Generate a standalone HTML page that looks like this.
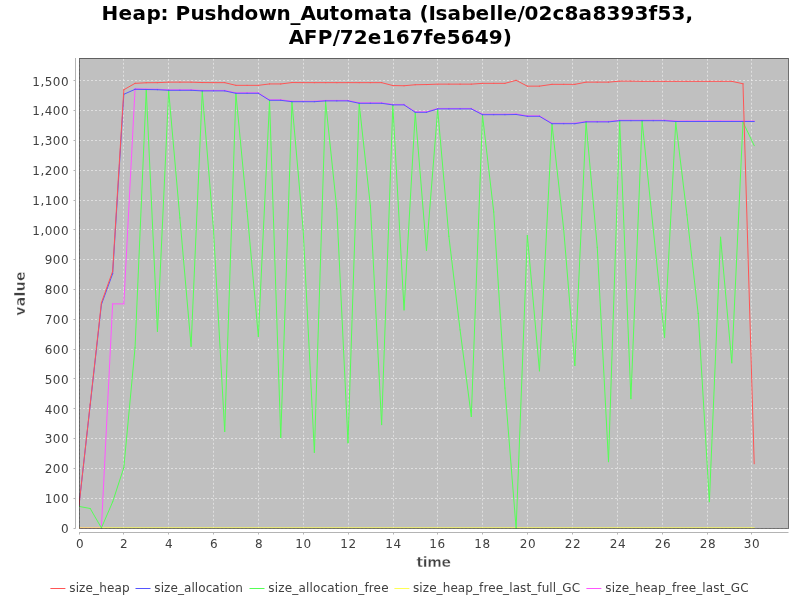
<!DOCTYPE html>
<html><head><meta charset="utf-8"><title>Heap: Pushdown_Automata</title>
<style>
html,body{margin:0;padding:0;background:#fff;}
body{width:800px;height:600px;overflow:hidden;}
svg{display:block;will-change:transform;}
text{font-family:"DejaVu Sans","Liberation Sans",sans-serif;}
.t{font-weight:bold;font-size:20px;fill:#000;}
.al{font-weight:bold;font-size:14px;fill:#404040;stroke:#ffffff;stroke-width:0.4px;letter-spacing:-0.35px;}
.av{font-weight:bold;font-size:14px;fill:#404040;stroke:#ffffff;stroke-width:0.4px;letter-spacing:0.35px;}
.tk{font-size:12px;fill:#404040;letter-spacing:0.47px;}
.tx{font-size:12px;fill:#404040;letter-spacing:0.65px;}
.lg{font-size:12px;fill:#404040;}
</style></head><body>
<svg width="800" height="600" viewBox="0 0 800 600">
<rect x="0" y="0" width="800" height="600" fill="#ffffff"/>
<text class="t" x="101.4 118.4 132.4 146.4 160.4 168.4 175.4 190.4 204.4 216.4 230.4 244.4 258.4 276.4 290.4 300.4 315.4 329.4 339.4 353.4 374.4 388.4 398.4 412.4 419.4 428.4 435.4 447.4 461.4 475.4 489.4 496.4 503.4 517.4 524.4 538.4 552.4 564.4 578.4 592.4 606.4 620.4 634.4 648.4 657.4 671.4 685.4" y="20.0">Heap: Pushdown_Automata (Isabelle/02c8a8393f53,</text>
<text class="t" x="288.7 303.7 317.7 332.7 339.7 353.7 367.7 381.7 395.7 409.7 423.7 432.7 446.7 460.7 474.7 488.7 502.7" y="44.0">AFP/72e167fe5649)</text>
<rect x="79.0" y="58.0" width="709.5" height="470.5" fill="#c0c0c0"/>
<g stroke="#ffffff" stroke-width="0.5" stroke-dasharray="2,2" fill="none" opacity="1.0">
<line x1="79.50" y1="58.75" x2="79.50" y2="528.5"/>
<line x1="123.50" y1="58.75" x2="123.50" y2="528.5"/>
<line x1="168.50" y1="58.75" x2="168.50" y2="528.5"/>
<line x1="213.50" y1="58.75" x2="213.50" y2="528.5"/>
<line x1="258.50" y1="58.75" x2="258.50" y2="528.5"/>
<line x1="303.50" y1="58.75" x2="303.50" y2="528.5"/>
<line x1="348.50" y1="58.75" x2="348.50" y2="528.5"/>
<line x1="393.50" y1="58.75" x2="393.50" y2="528.5"/>
<line x1="437.50" y1="58.75" x2="437.50" y2="528.5"/>
<line x1="482.50" y1="58.75" x2="482.50" y2="528.5"/>
<line x1="527.50" y1="58.75" x2="527.50" y2="528.5"/>
<line x1="572.50" y1="58.75" x2="572.50" y2="528.5"/>
<line x1="617.50" y1="58.75" x2="617.50" y2="528.5"/>
<line x1="662.50" y1="58.75" x2="662.50" y2="528.5"/>
<line x1="707.50" y1="58.75" x2="707.50" y2="528.5"/>
<line x1="751.50" y1="58.75" x2="751.50" y2="528.5"/>
<line x1="79.0" y1="528.50" x2="788.5" y2="528.50"/>
<line x1="79.0" y1="498.50" x2="788.5" y2="498.50"/>
<line x1="79.0" y1="468.50" x2="788.5" y2="468.50"/>
<line x1="79.0" y1="438.50" x2="788.5" y2="438.50"/>
<line x1="79.0" y1="408.50" x2="788.5" y2="408.50"/>
<line x1="79.0" y1="378.50" x2="788.5" y2="378.50"/>
<line x1="79.0" y1="349.50" x2="788.5" y2="349.50"/>
<line x1="79.0" y1="319.50" x2="788.5" y2="319.50"/>
<line x1="79.0" y1="289.50" x2="788.5" y2="289.50"/>
<line x1="79.0" y1="259.50" x2="788.5" y2="259.50"/>
<line x1="79.0" y1="229.50" x2="788.5" y2="229.50"/>
<line x1="79.0" y1="200.50" x2="788.5" y2="200.50"/>
<line x1="79.0" y1="170.50" x2="788.5" y2="170.50"/>
<line x1="79.0" y1="140.50" x2="788.5" y2="140.50"/>
<line x1="79.0" y1="110.50" x2="788.5" y2="110.50"/>
<line x1="79.0" y1="80.50" x2="788.5" y2="80.50"/>
</g>
<g clip-path="url(#pc)">
<clipPath id="pc"><rect x="79.0" y="58.0" width="709.5" height="470.5"/></clipPath>
<g fill="none" stroke="#ff55ff" stroke-width="1.0" stroke-linecap="square"><line x1="79.00" y1="527.90" x2="90.21" y2="527.90"/><line x1="90.21" y1="527.90" x2="101.42" y2="527.90"/><line x1="101.42" y1="527.90" x2="112.63" y2="303.90"/><line x1="112.63" y1="303.90" x2="123.83" y2="303.90"/><line x1="123.83" y1="303.90" x2="135.04" y2="88.85"/><line x1="135.04" y1="88.85" x2="146.25" y2="89.05"/><line x1="146.25" y1="89.05" x2="157.46" y2="89.25"/><line x1="157.46" y1="89.25" x2="168.67" y2="89.85"/><line x1="168.67" y1="89.85" x2="179.88" y2="89.85"/><line x1="179.88" y1="89.85" x2="191.09" y2="89.85"/><line x1="191.09" y1="89.85" x2="202.29" y2="90.45"/><line x1="202.29" y1="90.45" x2="213.50" y2="90.45"/><line x1="213.50" y1="90.45" x2="224.71" y2="90.45"/><line x1="224.71" y1="90.45" x2="235.92" y2="92.85"/><line x1="235.92" y1="92.85" x2="247.13" y2="92.85"/><line x1="247.13" y1="92.85" x2="258.34" y2="92.85"/><line x1="258.34" y1="92.85" x2="269.54" y2="99.85"/><line x1="269.54" y1="99.85" x2="280.75" y2="99.85"/><line x1="280.75" y1="99.85" x2="291.96" y2="101.25"/><line x1="291.96" y1="101.25" x2="303.17" y2="101.25"/><line x1="303.17" y1="101.25" x2="314.38" y2="101.25"/><line x1="314.38" y1="101.25" x2="325.59" y2="100.45"/><line x1="325.59" y1="100.45" x2="336.80" y2="100.45"/><line x1="336.80" y1="100.45" x2="348.00" y2="100.45"/><line x1="348.00" y1="100.45" x2="359.21" y2="102.85"/><line x1="359.21" y1="102.85" x2="370.42" y2="102.85"/><line x1="370.42" y1="102.85" x2="381.63" y2="102.85"/><line x1="381.63" y1="102.85" x2="392.84" y2="104.45"/><line x1="392.84" y1="104.45" x2="404.05" y2="104.45"/><line x1="404.05" y1="104.45" x2="415.25" y2="111.85"/><line x1="415.25" y1="111.85" x2="426.46" y2="111.85"/><line x1="426.46" y1="111.85" x2="437.67" y2="108.45"/><line x1="437.67" y1="108.45" x2="448.88" y2="108.45"/><line x1="448.88" y1="108.45" x2="460.09" y2="108.45"/><line x1="460.09" y1="108.45" x2="471.30" y2="108.45"/><line x1="471.30" y1="108.45" x2="482.51" y2="114.25"/><line x1="482.51" y1="114.25" x2="493.71" y2="114.25"/><line x1="493.71" y1="114.25" x2="504.92" y2="114.25"/><line x1="504.92" y1="114.25" x2="516.13" y2="114.05"/><line x1="516.13" y1="114.05" x2="527.34" y2="115.85"/><line x1="527.34" y1="115.85" x2="539.45" y2="115.85"/><line x1="539.45" y1="115.85" x2="552.00" y2="123.25"/><line x1="552.00" y1="123.25" x2="563.66" y2="123.25"/><line x1="563.66" y1="123.25" x2="574.86" y2="123.25"/><line x1="574.86" y1="123.25" x2="586.07" y2="121.45"/><line x1="586.07" y1="121.45" x2="597.28" y2="121.45"/><line x1="597.28" y1="121.45" x2="608.49" y2="121.45"/><line x1="608.49" y1="121.45" x2="619.70" y2="120.25"/><line x1="619.70" y1="120.25" x2="630.91" y2="120.25"/><line x1="630.91" y1="120.25" x2="642.12" y2="120.25"/><line x1="642.12" y1="120.25" x2="653.32" y2="120.25"/><line x1="653.32" y1="120.25" x2="664.53" y2="120.25"/><line x1="664.53" y1="120.25" x2="675.74" y2="121.05"/><line x1="675.74" y1="121.05" x2="686.95" y2="121.05"/><line x1="686.95" y1="121.05" x2="698.16" y2="121.05"/><line x1="698.16" y1="121.05" x2="709.37" y2="121.05"/><line x1="709.37" y1="121.05" x2="720.57" y2="121.05"/><line x1="720.57" y1="121.05" x2="731.78" y2="121.05"/><line x1="731.78" y1="121.05" x2="742.99" y2="121.05"/><line x1="742.99" y1="121.05" x2="754.20" y2="121.05"/></g>
<g fill="none" stroke="#ffff55" stroke-width="1.0" stroke-linecap="square"><line x1="79.00" y1="527.85" x2="754.20" y2="527.85"/></g>
<g fill="none" stroke="#55ff55" stroke-width="1.0" stroke-linecap="square"><line x1="79.00" y1="506.40" x2="90.21" y2="508.49"/><line x1="90.21" y1="508.49" x2="101.42" y2="527.90"/><line x1="101.42" y1="527.90" x2="112.63" y2="501.92"/><line x1="112.63" y1="501.92" x2="123.83" y2="467.57"/><line x1="123.83" y1="467.57" x2="135.04" y2="347.80"/><line x1="135.04" y1="347.80" x2="146.25" y2="90.10"/><line x1="146.25" y1="90.10" x2="157.46" y2="331.38"/><line x1="157.46" y1="331.38" x2="168.67" y2="90.90"/><line x1="168.67" y1="90.90" x2="179.88" y2="217.88"/><line x1="179.88" y1="217.88" x2="191.09" y2="346.31"/><line x1="191.09" y1="346.31" x2="202.29" y2="91.50"/><line x1="202.29" y1="91.50" x2="213.50" y2="229.83"/><line x1="213.50" y1="229.83" x2="224.71" y2="431.43"/><line x1="224.71" y1="431.43" x2="235.92" y2="93.90"/><line x1="235.92" y1="93.90" x2="247.13" y2="211.31"/><line x1="247.13" y1="211.31" x2="258.34" y2="336.46"/><line x1="258.34" y1="336.46" x2="269.54" y2="100.90"/><line x1="269.54" y1="100.90" x2="280.75" y2="437.41"/><line x1="280.75" y1="437.41" x2="291.96" y2="102.30"/><line x1="291.96" y1="102.30" x2="303.17" y2="229.83"/><line x1="303.17" y1="229.83" x2="314.38" y2="452.34"/><line x1="314.38" y1="452.34" x2="325.59" y2="101.50"/><line x1="325.59" y1="101.50" x2="336.80" y2="208.92"/><line x1="336.80" y1="208.92" x2="348.00" y2="442.78"/><line x1="348.00" y1="442.78" x2="359.21" y2="103.90"/><line x1="359.21" y1="103.90" x2="370.42" y2="205.94"/><line x1="370.42" y1="205.94" x2="381.63" y2="424.56"/><line x1="381.63" y1="424.56" x2="392.84" y2="105.50"/><line x1="392.84" y1="105.50" x2="404.05" y2="309.87"/><line x1="404.05" y1="309.87" x2="415.25" y2="112.90"/><line x1="415.25" y1="112.90" x2="426.46" y2="250.44"/><line x1="426.46" y1="250.44" x2="437.67" y2="109.50"/><line x1="437.67" y1="109.50" x2="448.88" y2="236.40"/><line x1="448.88" y1="236.40" x2="460.09" y2="329.88"/><line x1="460.09" y1="329.88" x2="471.30" y2="416.50"/><line x1="471.30" y1="416.50" x2="482.51" y2="115.30"/><line x1="482.51" y1="115.30" x2="493.71" y2="211.91"/><line x1="493.71" y1="211.91" x2="504.92" y2="388.13"/><line x1="504.92" y1="388.13" x2="516.13" y2="528.50"/><line x1="516.13" y1="528.50" x2="527.34" y2="235.50"/><line x1="527.34" y1="235.50" x2="539.45" y2="370.80"/><line x1="539.45" y1="370.80" x2="552.00" y2="124.30"/><line x1="552.00" y1="124.30" x2="563.66" y2="228.93"/><line x1="563.66" y1="228.93" x2="574.86" y2="365.43"/><line x1="574.86" y1="365.43" x2="586.07" y2="122.50"/><line x1="586.07" y1="122.50" x2="597.28" y2="247.45"/><line x1="597.28" y1="247.45" x2="608.49" y2="461.60"/><line x1="608.49" y1="461.60" x2="619.70" y2="121.30"/><line x1="619.70" y1="121.30" x2="630.91" y2="398.58"/><line x1="630.91" y1="398.58" x2="642.12" y2="121.30"/><line x1="642.12" y1="121.30" x2="653.32" y2="229.83"/><line x1="653.32" y1="229.83" x2="664.53" y2="337.35"/><line x1="664.53" y1="337.35" x2="675.74" y2="122.10"/><line x1="675.74" y1="122.10" x2="686.95" y2="214.90"/><line x1="686.95" y1="214.90" x2="698.16" y2="313.46"/><line x1="698.16" y1="313.46" x2="709.37" y2="501.62"/><line x1="709.37" y1="501.62" x2="720.57" y2="237.30"/><line x1="720.57" y1="237.30" x2="731.78" y2="362.74"/><line x1="731.78" y1="362.74" x2="742.99" y2="122.10"/><line x1="742.99" y1="122.10" x2="754.20" y2="145.61"/></g>
<g fill="none" stroke="#5555ff" stroke-width="1.0" stroke-linecap="square"><line x1="79.00" y1="505.50" x2="90.21" y2="405.00"/><line x1="90.21" y1="405.00" x2="101.42" y2="304.50"/><line x1="101.42" y1="304.50" x2="112.63" y2="273.73"/><line x1="112.63" y1="273.73" x2="123.83" y2="94.30"/><line x1="123.83" y1="94.30" x2="135.04" y2="89.30"/><line x1="135.04" y1="89.30" x2="146.25" y2="89.50"/><line x1="146.25" y1="89.50" x2="157.46" y2="89.70"/><line x1="157.46" y1="89.70" x2="168.67" y2="90.30"/><line x1="168.67" y1="90.30" x2="179.88" y2="90.30"/><line x1="179.88" y1="90.30" x2="191.09" y2="90.30"/><line x1="191.09" y1="90.30" x2="202.29" y2="90.90"/><line x1="202.29" y1="90.90" x2="213.50" y2="90.90"/><line x1="213.50" y1="90.90" x2="224.71" y2="90.90"/><line x1="224.71" y1="90.90" x2="235.92" y2="93.30"/><line x1="235.92" y1="93.30" x2="247.13" y2="93.30"/><line x1="247.13" y1="93.30" x2="258.34" y2="93.30"/><line x1="258.34" y1="93.30" x2="269.54" y2="100.30"/><line x1="269.54" y1="100.30" x2="280.75" y2="100.30"/><line x1="280.75" y1="100.30" x2="291.96" y2="101.70"/><line x1="291.96" y1="101.70" x2="303.17" y2="101.70"/><line x1="303.17" y1="101.70" x2="314.38" y2="101.70"/><line x1="314.38" y1="101.70" x2="325.59" y2="100.90"/><line x1="325.59" y1="100.90" x2="336.80" y2="100.90"/><line x1="336.80" y1="100.90" x2="348.00" y2="100.90"/><line x1="348.00" y1="100.90" x2="359.21" y2="103.30"/><line x1="359.21" y1="103.30" x2="370.42" y2="103.30"/><line x1="370.42" y1="103.30" x2="381.63" y2="103.30"/><line x1="381.63" y1="103.30" x2="392.84" y2="104.90"/><line x1="392.84" y1="104.90" x2="404.05" y2="104.90"/><line x1="404.05" y1="104.90" x2="415.25" y2="112.30"/><line x1="415.25" y1="112.30" x2="426.46" y2="112.30"/><line x1="426.46" y1="112.30" x2="437.67" y2="108.90"/><line x1="437.67" y1="108.90" x2="448.88" y2="108.90"/><line x1="448.88" y1="108.90" x2="460.09" y2="108.90"/><line x1="460.09" y1="108.90" x2="471.30" y2="108.90"/><line x1="471.30" y1="108.90" x2="482.51" y2="114.70"/><line x1="482.51" y1="114.70" x2="493.71" y2="114.70"/><line x1="493.71" y1="114.70" x2="504.92" y2="114.70"/><line x1="504.92" y1="114.70" x2="516.13" y2="114.50"/><line x1="516.13" y1="114.50" x2="527.34" y2="116.30"/><line x1="527.34" y1="116.30" x2="539.45" y2="116.30"/><line x1="539.45" y1="116.30" x2="552.00" y2="123.70"/><line x1="552.00" y1="123.70" x2="563.66" y2="123.70"/><line x1="563.66" y1="123.70" x2="574.86" y2="123.70"/><line x1="574.86" y1="123.70" x2="586.07" y2="121.90"/><line x1="586.07" y1="121.90" x2="597.28" y2="121.90"/><line x1="597.28" y1="121.90" x2="608.49" y2="121.90"/><line x1="608.49" y1="121.90" x2="619.70" y2="120.70"/><line x1="619.70" y1="120.70" x2="630.91" y2="120.70"/><line x1="630.91" y1="120.70" x2="642.12" y2="120.70"/><line x1="642.12" y1="120.70" x2="653.32" y2="120.70"/><line x1="653.32" y1="120.70" x2="664.53" y2="120.70"/><line x1="664.53" y1="120.70" x2="675.74" y2="121.50"/><line x1="675.74" y1="121.50" x2="686.95" y2="121.50"/><line x1="686.95" y1="121.50" x2="698.16" y2="121.50"/><line x1="698.16" y1="121.50" x2="709.37" y2="121.50"/><line x1="709.37" y1="121.50" x2="720.57" y2="121.50"/><line x1="720.57" y1="121.50" x2="731.78" y2="121.50"/><line x1="731.78" y1="121.50" x2="742.99" y2="121.50"/><line x1="742.99" y1="121.50" x2="754.20" y2="121.50"/></g>
<g fill="none" stroke="#ff5555" stroke-width="1.0" stroke-linecap="square"><line x1="79.00" y1="505.50" x2="90.21" y2="404.10"/><line x1="90.21" y1="404.10" x2="101.42" y2="302.71"/><line x1="101.42" y1="302.71" x2="112.63" y2="271.35"/><line x1="112.63" y1="271.35" x2="123.83" y2="89.75"/><line x1="123.83" y1="89.75" x2="135.04" y2="83.35"/><line x1="135.04" y1="83.35" x2="146.25" y2="82.75"/><line x1="146.25" y1="82.75" x2="157.46" y2="82.65"/><line x1="157.46" y1="82.65" x2="168.67" y2="82.15"/><line x1="168.67" y1="82.15" x2="179.88" y2="82.15"/><line x1="179.88" y1="82.15" x2="191.09" y2="82.15"/><line x1="191.09" y1="82.15" x2="202.29" y2="82.55"/><line x1="202.29" y1="82.55" x2="213.50" y2="82.65"/><line x1="213.50" y1="82.65" x2="224.71" y2="82.65"/><line x1="224.71" y1="82.65" x2="235.92" y2="85.35"/><line x1="235.92" y1="85.35" x2="247.13" y2="85.35"/><line x1="247.13" y1="85.35" x2="258.34" y2="85.35"/><line x1="258.34" y1="85.35" x2="269.54" y2="83.95"/><line x1="269.54" y1="83.95" x2="280.75" y2="83.95"/><line x1="280.75" y1="83.95" x2="291.96" y2="82.55"/><line x1="291.96" y1="82.55" x2="303.17" y2="82.65"/><line x1="303.17" y1="82.65" x2="314.38" y2="82.65"/><line x1="314.38" y1="82.65" x2="325.59" y2="82.65"/><line x1="325.59" y1="82.65" x2="336.80" y2="82.65"/><line x1="336.80" y1="82.65" x2="348.00" y2="82.65"/><line x1="348.00" y1="82.65" x2="359.21" y2="82.65"/><line x1="359.21" y1="82.65" x2="370.42" y2="82.65"/><line x1="370.42" y1="82.65" x2="381.63" y2="82.65"/><line x1="381.63" y1="82.65" x2="392.84" y2="85.55"/><line x1="392.84" y1="85.55" x2="404.05" y2="85.75"/><line x1="404.05" y1="85.75" x2="415.25" y2="84.75"/><line x1="415.25" y1="84.75" x2="426.46" y2="84.55"/><line x1="426.46" y1="84.55" x2="437.67" y2="84.15"/><line x1="437.67" y1="84.15" x2="448.88" y2="84.15"/><line x1="448.88" y1="84.15" x2="460.09" y2="84.15"/><line x1="460.09" y1="84.15" x2="471.30" y2="84.15"/><line x1="471.30" y1="84.15" x2="482.51" y2="83.35"/><line x1="482.51" y1="83.35" x2="493.71" y2="83.35"/><line x1="493.71" y1="83.35" x2="504.92" y2="83.35"/><line x1="504.92" y1="83.35" x2="516.13" y2="80.35"/><line x1="516.13" y1="80.35" x2="527.34" y2="86.15"/><line x1="527.34" y1="86.15" x2="539.45" y2="86.15"/><line x1="539.45" y1="86.15" x2="552.00" y2="84.35"/><line x1="552.00" y1="84.35" x2="563.66" y2="84.35"/><line x1="563.66" y1="84.35" x2="574.86" y2="84.35"/><line x1="574.86" y1="84.35" x2="586.07" y2="82.15"/><line x1="586.07" y1="82.15" x2="597.28" y2="82.15"/><line x1="597.28" y1="82.15" x2="608.49" y2="82.15"/><line x1="608.49" y1="82.15" x2="619.70" y2="81.15"/><line x1="619.70" y1="81.15" x2="630.91" y2="81.15"/><line x1="630.91" y1="81.15" x2="642.12" y2="81.35"/><line x1="642.12" y1="81.35" x2="653.32" y2="81.35"/><line x1="653.32" y1="81.35" x2="664.53" y2="81.35"/><line x1="664.53" y1="81.35" x2="675.74" y2="81.35"/><line x1="675.74" y1="81.35" x2="686.95" y2="81.35"/><line x1="686.95" y1="81.35" x2="698.16" y2="81.35"/><line x1="698.16" y1="81.35" x2="709.37" y2="81.35"/><line x1="709.37" y1="81.35" x2="720.57" y2="81.35"/><line x1="720.57" y1="81.35" x2="731.78" y2="81.35"/><line x1="731.78" y1="81.35" x2="742.99" y2="83.75"/><line x1="742.99" y1="83.75" x2="754.20" y2="463.69"/></g>
</g>
<rect x="79.5" y="58.5" width="709.0" height="470.0" fill="none" stroke="#000000" stroke-width="1" stroke-opacity="0.5"/>
<g stroke="#b4b4b4" stroke-width="1" fill="none">
<line x1="75.5" y1="58.0" x2="75.5" y2="528.5"/>
<line x1="79.0" y1="532.5" x2="788.5" y2="532.5"/>
<line x1="79.50" y1="532.5" x2="79.50" y2="534.5"/>
<line x1="123.50" y1="532.5" x2="123.50" y2="534.5"/>
<line x1="168.50" y1="532.5" x2="168.50" y2="534.5"/>
<line x1="213.50" y1="532.5" x2="213.50" y2="534.5"/>
<line x1="258.50" y1="532.5" x2="258.50" y2="534.5"/>
<line x1="303.50" y1="532.5" x2="303.50" y2="534.5"/>
<line x1="348.50" y1="532.5" x2="348.50" y2="534.5"/>
<line x1="393.50" y1="532.5" x2="393.50" y2="534.5"/>
<line x1="437.50" y1="532.5" x2="437.50" y2="534.5"/>
<line x1="482.50" y1="532.5" x2="482.50" y2="534.5"/>
<line x1="527.50" y1="532.5" x2="527.50" y2="534.5"/>
<line x1="572.50" y1="532.5" x2="572.50" y2="534.5"/>
<line x1="617.50" y1="532.5" x2="617.50" y2="534.5"/>
<line x1="662.50" y1="532.5" x2="662.50" y2="534.5"/>
<line x1="707.50" y1="532.5" x2="707.50" y2="534.5"/>
<line x1="751.50" y1="532.5" x2="751.50" y2="534.5"/>
<line x1="73.5" y1="528.50" x2="75.5" y2="528.50"/>
<line x1="73.5" y1="498.50" x2="75.5" y2="498.50"/>
<line x1="73.5" y1="468.50" x2="75.5" y2="468.50"/>
<line x1="73.5" y1="438.50" x2="75.5" y2="438.50"/>
<line x1="73.5" y1="408.50" x2="75.5" y2="408.50"/>
<line x1="73.5" y1="378.50" x2="75.5" y2="378.50"/>
<line x1="73.5" y1="349.50" x2="75.5" y2="349.50"/>
<line x1="73.5" y1="319.50" x2="75.5" y2="319.50"/>
<line x1="73.5" y1="289.50" x2="75.5" y2="289.50"/>
<line x1="73.5" y1="259.50" x2="75.5" y2="259.50"/>
<line x1="73.5" y1="229.50" x2="75.5" y2="229.50"/>
<line x1="73.5" y1="200.50" x2="75.5" y2="200.50"/>
<line x1="73.5" y1="170.50" x2="75.5" y2="170.50"/>
<line x1="73.5" y1="140.50" x2="75.5" y2="140.50"/>
<line x1="73.5" y1="110.50" x2="75.5" y2="110.50"/>
<line x1="73.5" y1="80.50" x2="75.5" y2="80.50"/>
</g>
<text class="tx" text-anchor="middle" x="80.20" y="547.5">0</text>
<text class="tx" text-anchor="middle" x="124.20" y="547.5">2</text>
<text class="tx" text-anchor="middle" x="169.20" y="547.5">4</text>
<text class="tx" text-anchor="middle" x="214.20" y="547.5">6</text>
<text class="tx" text-anchor="middle" x="259.20" y="547.5">8</text>
<text class="tx" text-anchor="middle" x="303.50" y="547.5">10</text>
<text class="tx" text-anchor="middle" x="348.50" y="547.5">12</text>
<text class="tx" text-anchor="middle" x="393.50" y="547.5">14</text>
<text class="tx" text-anchor="middle" x="437.50" y="547.5">16</text>
<text class="tx" text-anchor="middle" x="482.50" y="547.5">18</text>
<text class="tx" text-anchor="middle" x="528.10" y="547.5">20</text>
<text class="tx" text-anchor="middle" x="573.10" y="547.5">22</text>
<text class="tx" text-anchor="middle" x="618.10" y="547.5">24</text>
<text class="tx" text-anchor="middle" x="663.10" y="547.5">26</text>
<text class="tx" text-anchor="middle" x="708.10" y="547.5">28</text>
<text class="tx" text-anchor="middle" x="752.10" y="547.5">30</text>
<text class="tk" text-anchor="end" x="69.0" y="533.00">0</text>
<text class="tk" text-anchor="end" x="69.0" y="503.00">100</text>
<text class="tk" text-anchor="end" x="69.0" y="473.00">200</text>
<text class="tk" text-anchor="end" x="69.0" y="443.00">300</text>
<text class="tk" text-anchor="end" x="69.0" y="414.00">400</text>
<text class="tk" text-anchor="end" x="69.0" y="384.00">500</text>
<text class="tk" text-anchor="end" x="69.0" y="354.00">600</text>
<text class="tk" text-anchor="end" x="69.0" y="324.00">700</text>
<text class="tk" text-anchor="end" x="69.0" y="294.00">800</text>
<text class="tk" text-anchor="end" x="69.0" y="264.00">900</text>
<text class="tk" text-anchor="end" x="69.0" y="235.00">1,000</text>
<text class="tk" text-anchor="end" x="69.0" y="205.00">1,100</text>
<text class="tk" text-anchor="end" x="69.0" y="175.00">1,200</text>
<text class="tk" text-anchor="end" x="69.0" y="145.00">1,300</text>
<text class="tk" text-anchor="end" x="69.0" y="115.00">1,400</text>
<text class="tk" text-anchor="end" x="69.0" y="86.00">1,500</text>
<text class="al" text-anchor="middle" x="433.5" y="566.5">time</text>
<text class="av" text-anchor="middle" transform="translate(24.5,293.4) rotate(-90)">value</text>
<line x1="50.4" y1="588.5" x2="65.4" y2="588.5" stroke="#ff5555" stroke-width="1"/>
<text class="lg" x="69.25" y="591.5" textLength="60.3" lengthAdjust="spacing">size_heap</text>
<line x1="135.5" y1="588.5" x2="150.5" y2="588.5" stroke="#5555ff" stroke-width="1"/>
<text class="lg" x="154.35" y="591.5" textLength="88.6" lengthAdjust="spacing">size_allocation</text>
<line x1="249.5" y1="588.5" x2="264.5" y2="588.5" stroke="#55ff55" stroke-width="1"/>
<text class="lg" x="268.35" y="591.5" textLength="120.2" lengthAdjust="spacing">size_allocation_free</text>
<line x1="394.4" y1="588.5" x2="409.4" y2="588.5" stroke="#ffff55" stroke-width="1"/>
<text class="lg" x="412.95" y="591.5" textLength="167.1" lengthAdjust="spacing">size_heap_free_last_full_GC</text>
<line x1="586.4" y1="588.5" x2="601.4" y2="588.5" stroke="#ff55ff" stroke-width="1"/>
<text class="lg" x="605.35" y="591.5" textLength="143.2" lengthAdjust="spacing">size_heap_free_last_GC</text>
</svg></body></html>
